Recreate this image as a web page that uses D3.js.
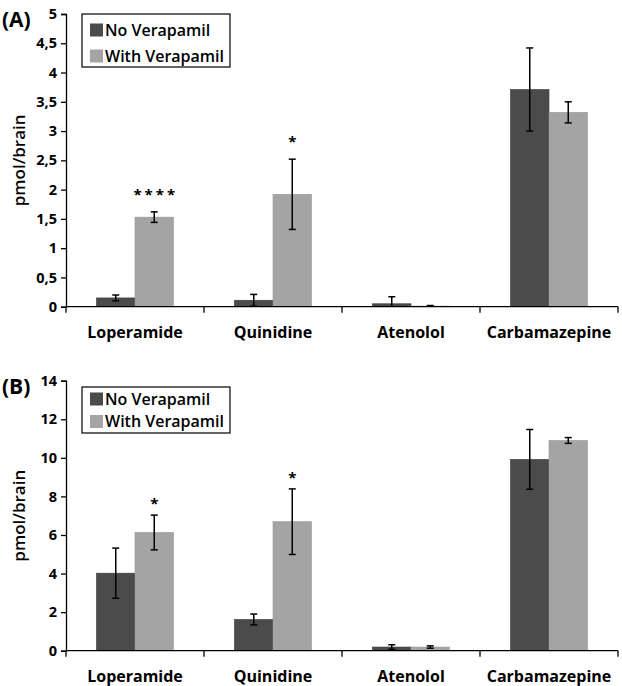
<!DOCTYPE html>
<html>
<head>
<meta charset="utf-8">
<script src="https://cdn.jsdelivr.net/npm/d3@7"></script>
<style>
  body { margin: 0; background: #fff; }
  svg { display: block; font-family: 'Open Sans', sans-serif; font-weight: 700; }
</style>
</head>
<body>
<div id="chart"></div>
<script>
// drugs on the x axis
const drugs = ['Loperamide', 'Quinidine', 'Atenolol', 'Carbamazepine'];
const seriesNames = ['No Verapamil', 'With Verapamil'];

// panel A
const noVerA = [0.15, 0.11, 0.05, 3.71];
const noVerErrA = [0.05, 0.1, 0.12, 0.71];
const withVerA = [1.53, 1.92, 0.01, 3.32];
const withVerErrA = [0.09, 0.6, 0.01, 0.18];
const starsA = ['', '****', '', '*', '', '', '', ''];
const ticksA = [0, 0.5, 1, 1.5, 2, 2.5, 3, 3.5, 4, 4.5, 5];

// panel B
const noVerB = [4.02, 1.62, 0.19, 9.92];
const noVerErrB = [1.3, 0.28, 0.12, 1.55];
const withVerB = [6.13, 6.69, 0.19, 10.9];
const withVerErrB = [0.9, 1.7, 0.06, 0.15];
const starsB = ['', '*', '', '*', '', '', '', ''];
const ticksB = [0, 2, 4, 6, 8, 10, 12, 14];

const colors = ['#4b4b4b', '#a4a4a4'];
const width = 622, height = 686;

const svg = d3.select('#chart').append('svg')
  .attr('width', width)
  .attr('height', height);

function drawPanel(opts) {
  const g = svg.append('g');
  const x = d3.scaleBand().domain(drugs).range([66, 618]);
  const x1 = d3.scaleBand().domain(seriesNames).range([0, 77]);
  const y = d3.scaleLinear().domain([0, opts.max]).range([opts.y0, opts.yTop]);

  // flatten to one row per bar
  const rows = [];
  drugs.forEach((d, i) => {
    rows.push({ drug: d, s: seriesNames[0], v: opts.no[i], e: opts.noErr[i], star: opts.stars[i * 2] });
    rows.push({ drug: d, s: seriesNames[1], v: opts.with[i], e: opts.withErr[i], star: opts.stars[i * 2 + 1] });
  });
  const bx = (d) => x(d.drug) + (x.bandwidth() - 77) / 2 + x1(d.s);

  g.selectAll('rect.bar')
    .data(rows)
    .join('rect')
    .attr('class', 'bar')
    .attr('x', (d) => bx(d))
    .attr('width', x1.bandwidth())
    .attr('y', (d) => y(d.v))
    .attr('height', (d) => y(0) - y(d.v))
    .attr('fill', (d) => colors[seriesNames.indexOf(d.s)])
    .attr('stroke', (d) => d.s === seriesNames[0] ? '#3a3a3a' : '#999')
    .attr('stroke-width', 0.6);

  // error bars
  const eb = g.selectAll('g.err').data(rows).join('g').attr('class', 'err');
  const cx = (d) => bx(d) + x1.bandwidth() / 2;
  eb.append('line')
    .attr('x1', cx).attr('x2', cx)
    .attr('y1', (d) => y(Math.max(0, d.v - d.e)))
    .attr('y2', (d) => y(d.v + d.e))
    .attr('stroke', '#000').attr('stroke-width', 1.5);
  [1, -1].forEach((sgn) => {
    eb.filter((d) => sgn > 0 || d.v - d.e > 0).append('line')
      .attr('x1', (d) => cx(d) - 3.5).attr('x2', (d) => cx(d) + 3.5)
      .attr('y1', (d) => y(d.v + sgn * d.e))
      .attr('y2', (d) => y(d.v + sgn * d.e))
      .attr('stroke', '#000').attr('stroke-width', 1.5);
  });

  // significance stars
  g.selectAll('text.star')
    .data(rows.filter((d) => d.star))
    .join('text')
    .attr('class', 'star')
    .attr('x', (d) => cx(d) + (d.star.length > 1 ? 1.5 : 0))
    .attr('y', (d) => y(d.v + d.e) - opts.starGap)
    .attr('text-anchor', 'middle')
    .attr('font-size', 15)
    .attr('letter-spacing', (d) => d.star.length > 1 ? 3 : 0)
    .text((d) => d.star);

  // y axis
  const yAxis = g.append('g')
    .attr('transform', 'translate(66,0)')
    .call(d3.axisLeft(y).tickValues(opts.ticks).tickSize(5).tickPadding(4)
      .tickFormat((v) => String(v).replace('.', ',')));
  yAxis.selectAll('text').attr('font-size', 14.5).attr('font-family', 'Open Sans').attr('font-weight', 700).attr('fill', '#000');
  yAxis.selectAll('line, path').attr('stroke', '#000').attr('stroke-width', 1.3);

  // x axis: ticks at band edges
  const xAxis = g.append('g').attr('transform', `translate(0,${opts.y0})`);
  xAxis.append('line').attr('x1', 66).attr('x2', 618).attr('stroke', '#000').attr('stroke-width', 1.3);
  xAxis.selectAll('line.edge')
    .data(drugs.map((d) => x(d)).concat([x.range()[1]]))
    .join('line')
    .attr('class', 'edge')
    .attr('x1', (d) => d).attr('x2', (d) => d)
    .attr('y1', 0).attr('y2', 6)
    .attr('stroke', '#000').attr('stroke-width', 1.3);
  xAxis.selectAll('text')
    .data(drugs)
    .join('text')
    .attr('x', (d) => x(d) + x.bandwidth() / 2)
    .attr('y', 31)
    .attr('text-anchor', 'middle')
    .attr('font-size', 16)
    .text((d) => d);

  // y label
  g.append('text')
    .attr('transform', `translate(25,${(opts.y0 + opts.yTop) / 2}) rotate(-90)`)
    .attr('text-anchor', 'middle')
    .attr('font-size', 17)
    .attr('font-weight', 600)
    .text('pmol/brain');

  // panel letter
  g.append('text')
    .attr('x', 2).attr('y', opts.yTop + 13)
    .attr('font-size', 21)
    .text(opts.label);

  // legend
  const lg = g.append('g').attr('transform', `translate(82,${opts.legY})`);
  lg.append('rect')
    .attr('width', 148).attr('height', opts.legH)
    .attr('fill', '#fff').attr('stroke', '#000').attr('stroke-width', 1.2);
  seriesNames.forEach((s, i) => {
    const cy = opts.legRows[i];
    lg.append('rect')
      .attr('x', 8).attr('y', cy - 6.5).attr('width', 13).attr('height', 13)
      .attr('fill', colors[i]);
    lg.append('text')
      .attr('x', 23).attr('y', cy + 5.5)
      .attr('font-size', 16)
      .attr('font-weight', 600)
      .text(s);
  });
}

drawPanel({ label: '(A)', no: noVerA, noErr: noVerErrA, with: withVerA, withErr: withVerErrA,
  stars: starsA, ticks: ticksA, max: 5, y0: 306.7, yTop: 14, starGap: 12,
  legY: 14, legH: 53, legRows: [16, 42] });
drawPanel({ label: '(B)', no: noVerB, noErr: noVerErrB, with: withVerB, withErr: withVerErrB,
  stars: starsB, ticks: ticksB, max: 14, y0: 650.7, yTop: 380.7, starGap: 6,
  legY: 387, legH: 46, legRows: [12, 34.5] });
</script>
</body>
</html>
